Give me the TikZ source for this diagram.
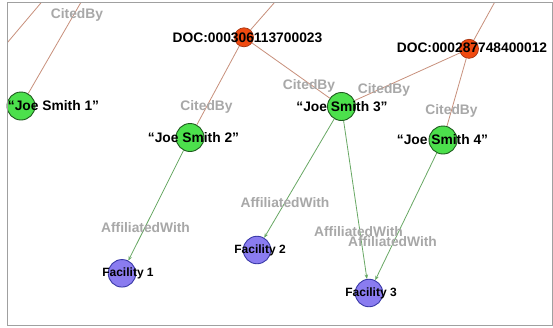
\documentclass[tikz,border=0pt]{standalone}
\usepackage{fontspec}
\setmainfont{Liberation Sans}
\usetikzlibrary{arrows.meta}
\pgfdeclarelayer{edges}
\pgfsetlayers{edges,main}

\definecolor{citedge}{HTML}{C8907C}
\definecolor{affedge}{HTML}{68A864}
\definecolor{personfill}{HTML}{4CE04C}
\definecolor{persondraw}{HTML}{1E5A1E}
\definecolor{docfill}{HTML}{F04A10}
\definecolor{docdraw}{HTML}{A83410}
\definecolor{facfill}{HTML}{8A7CF0}
\definecolor{facdraw}{HTML}{3A3AA8}
\definecolor{edgetext}{HTML}{A8A8A8}
\definecolor{framegray}{HTML}{A0A0A0}

\tikzset{
  person/.style={circle, draw=persondraw, fill=personfill, line width=0.9pt,
                 minimum size=28pt, inner sep=0pt},
  docnode/.style={circle, draw=docdraw, fill=docfill, line width=0.7pt,
                  minimum size=19pt, inner sep=0pt},
  facility/.style={circle, draw=facdraw, fill=facfill, line width=0.9pt,
                   minimum size=27.5pt, inner sep=0pt},
  citeline/.style={draw=citedge, line width=0.8pt},
  affline/.style={draw=affedge, line width=0.8pt,
                  -{Stealth[length=4.5pt,width=3.5pt]}},
  nodetext/.style={font=\bfseries\fontsize{13.8}{15}\selectfont, text=black,
                   inner sep=0pt},
  factext/.style={font=\bfseries\fontsize{12}{14}\selectfont, text=black,
                  inner sep=0pt},
  edgelabel/.style={font=\bfseries\fontsize{13.8}{15}\selectfont, text=edgetext,
                    inner sep=0pt}
}

\begin{document}
\begin{tikzpicture}[x=1pt, y=-1pt]
\useasboundingbox (0,0) rectangle (553,327);

% graph nodes
\node[person] (joe1) at (21,106) {};
\node[person] (joe2) at (190,137.5) {};
\node[person] (joe3) at (341.5,106.5) {};
\node[person] (joe4) at (443,140) {};
\node[docnode] (doc1) at (244,37.3) {};
\node[docnode] (doc2) at (469,48.8) {};
\node[facility] (fac1) at (122,273.3) {};
\node[facility] (fac2) at (257,250) {};
\node[facility] (fac3) at (369,293) {};

% loose ends of edges leaving the view
\coordinate (outA) at (-20,75);
\coordinate (outB) at (62,-22);
\coordinate (outJ) at (95,-22);
\coordinate (outD1) at (296,-22);
\coordinate (outD2) at (508,-22);

\begin{pgfonlayer}{edges}
  \fill[white] (0,0) rectangle (553,327);
  \begin{scope}
    \clip (7,2) rectangle (553,325);
    \draw[citeline] (outA) -- (outB);
    \draw[citeline] (joe1) -- (outJ);
    \draw[citeline] (doc1) -- (outD1);
    \draw[citeline] (doc2) -- (outD2);
    \draw[citeline] (doc1) -- (joe2);
    \draw[citeline] (doc1) -- (joe3);
    \draw[citeline] (doc2) -- (joe3);
    \draw[citeline] (doc2) -- (joe4);
    \draw[affline] (joe2) -- (fac1);
    \draw[affline] (joe3) -- (fac2);
    \draw[affline] (joe3) -- (fac3);
    \draw[affline] (joe4) -- (fac3);
  \end{scope}
\end{pgfonlayer}

% frame of the view
\draw[framegray, line width=0.8pt] (7,2) -- (552.6,2) -- (552.6,325) -- (7,325) -- cycle;

% edge labels
\node[edgelabel] (lc0) at (77,15) {CitedBy};
\node[edgelabel] (lc1) at (206.5,107) {CitedBy};
\node[edgelabel] (lc2) at (309,86) {CitedBy};
\node[edgelabel] (lc3) at (384,90) {CitedBy};
\node[edgelabel] (lc4) at (451.5,111) {CitedBy};
\node[edgelabel] (la1) at (145.5,228) {AffiliatedWith};
\node[edgelabel] (la2) at (285,203) {AffiliatedWith};
\node[edgelabel] (la3) at (358.5,232) {AffiliatedWith};
\node[edgelabel] (la4) at (392.5,242) {AffiliatedWith};

% node labels
\node[nodetext] (tdoc1) at (247.5,38) {DOC:000306113700023};
\node[nodetext] (tdoc2) at (472,48) {DOC:000287748400012};
\node[nodetext] (tjoe1) at (53.5,106) {“Joe Smith 1”};
\node[nodetext] (tjoe2) at (193.5,137.5) {“Joe Smith 2”};
\node[nodetext] (tjoe3) at (342,107) {“Joe Smith 3”};
\node[nodetext] (tjoe4) at (442.5,140) {“Joe Smith 4”};
\node[factext] (tfac1) at (128,273.5) {Facility 1};
\node[factext] (tfac2) at (260,250) {Facility 2};
\node[factext] (tfac3) at (371,293.5) {Facility 3};
\end{tikzpicture}
\end{document}
